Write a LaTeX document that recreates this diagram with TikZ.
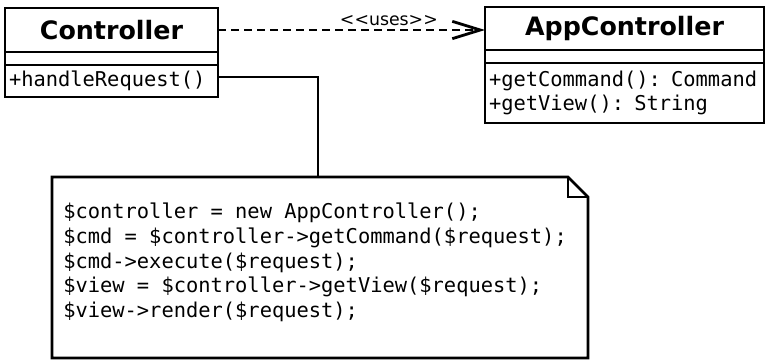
\documentclass[tikz,border=0pt]{standalone}
\usepackage{fontspec}
\setmainfont{DejaVu Sans}
\setmonofont{DejaVu Sans Mono}
\usetikzlibrary{arrows.meta, positioning}

\tikzset{
  classname/.style={draw, line width=2.1pt, outer sep=0pt, inner sep=0pt,
    font=\fontsize{19}{22}\selectfont\bfseries},
  classpart/.style={draw, line width=2.1pt, outer sep=0pt, inner xsep=3pt, inner ysep=0pt,
    align=left, font=\ttfamily\fontsize{15.3}{18.5}\selectfont},
  uses/.style={line width=2.1pt, dash pattern=on 6pt off 3.75pt,
    -{Straight Barb[length=21pt,width=13pt]}},
  notebox/.style={inner sep=0pt, outer sep=0pt, minimum width=402pt, minimum height=135.75pt},
}

\begin{document}
\begin{tikzpicture}[x=0.75pt, y=-0.75pt]
  \useasboundingbox (0,0) rectangle (766,362);

  % === Controller ===
  \node[classname, anchor=north west, minimum width=159.75pt, minimum height=33pt] (ctrl) at (5,8) {Controller};
  \node[classpart, below=0pt of ctrl, minimum width=159.75pt, minimum height=9.75pt] (ctrlattr) {};
  \node[classpart, below=0pt of ctrlattr, text width=153.75pt, minimum height=24pt] (ctrlops) {+handleRequest()};

  % === AppController ===
  \node[classname, anchor=north west, minimum width=209.25pt, minimum height=32.25pt] (app) at (485,7) {AppController};
  \node[classpart, below=0pt of app, minimum width=209.25pt, minimum height=9.75pt] (appattr) {};
  \node[classpart, below=0pt of appattr, text width=203.25pt, minimum height=45pt] (appops) {+getCommand(): Command\\+getView(): String};

  % uses
  \draw[uses] (ctrl.east) -- node[pos=0.64, above=-1pt, font=\fontsize{13}{13}\selectfont] (useslabel)
    {<\kern0pt<uses>\kern0pt>} (app.west |- ctrl.east);

  % === note ===
  \node[notebox, anchor=north west] (note) at (52,177) {};
  \draw[line width=2.1pt] (note.north west) -- ([xshift=-15pt]note.north east)
    -- ([yshift=-15pt]note.north east) -- (note.south east) -- (note.south west) -- cycle;
  \draw[line width=2.1pt] ([xshift=-15pt]note.north east) |- ([yshift=-15pt]note.north east);
  \node[anchor=north west, align=left, inner sep=0pt, font=\ttfamily\fontsize{15.3}{18.5}\selectfont] (code)
    at ([xshift=8.25pt, yshift=-19.5pt]note.north west)
    {\$controller = new AppController();\\
     \$cmd = \$controller->getCommand(\$request);\\
     \$cmd->execute(\$request);\\
     \$view = \$controller->getView(\$request);\\
     \$view->render(\$request);};

  % note link
  \coordinate (bend) at (318,77);
  \draw[line width=2.1pt] (ctrlops.east |- bend) -- (bend) -- (bend |- note.north);
\end{tikzpicture}
\end{document}
